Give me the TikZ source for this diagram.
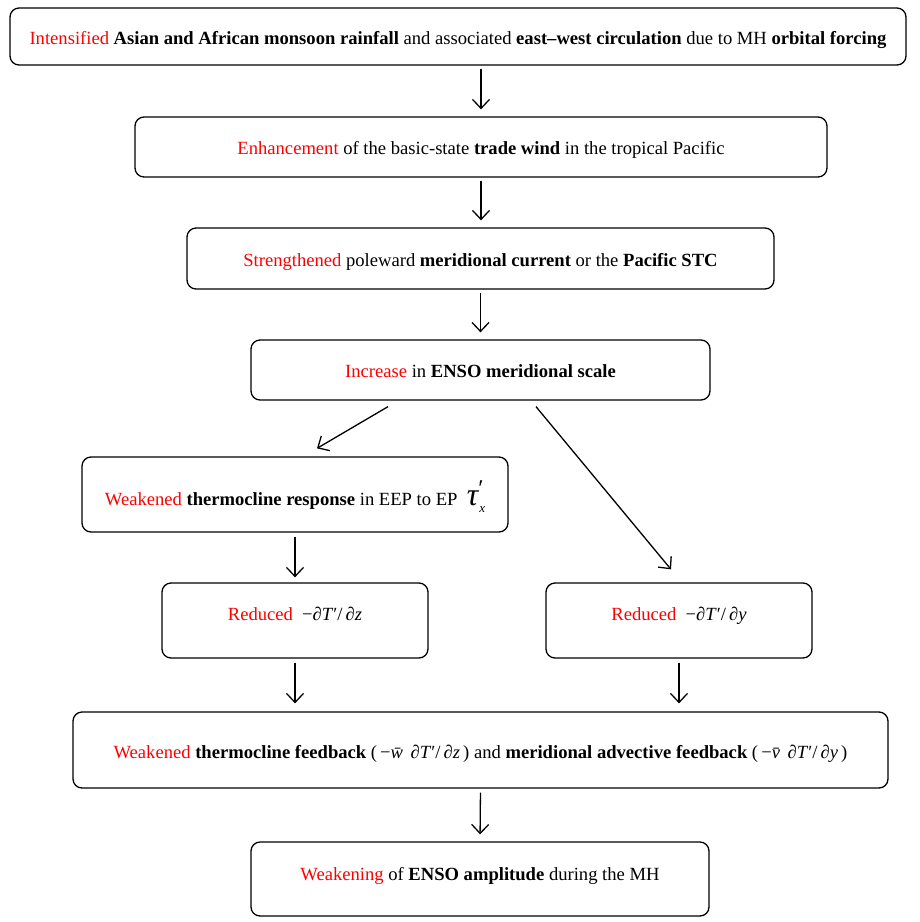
\documentclass[tikz,border=0pt]{standalone}
\usepackage{fontspec}
\setmainfont{Liberation Serif}
\usetikzlibrary{arrows.meta}
\definecolor{hlred}{RGB}{255,0,0}
\newcommand{\redw}[1]{\textcolor{hlred}{#1}}
\newcommand{\pTdz}{∂\textit{T}′/\,∂\textit{z}}
\newcommand{\pTdy}{∂\textit{T}′/\,∂\textit{y}}
\newcommand{\tauxp}{{\fontsize{32}{32}\selectfont\itshape τ}\rlap{\raisebox{9pt}{\fontsize{24}{24}\selectfont′}}\raisebox{-7pt}{\fontsize{13}{13}\selectfont\itshape\kern1pt x}}
\begin{document}
\begin{tikzpicture}[x=1pt,y=-1pt,
  box/.style={draw, line width=1.3pt, rounded corners=9pt, align=center,
    font=\fontsize{18.6}{22}\selectfont, inner sep=0pt},
  dn/.style={text height=19pt, text depth=4pt},
  arr/.style={-{Straight Barb[length=9pt,width=17pt]}, line width=1.3pt}]
\useasboundingbox (0,0) rectangle (920,922);

\node[box, dn, minimum width=896pt, minimum height=57pt] (n1) at (458,36.5)
  {\redw{Intensified} \textbf{Asian and African monsoon rainfall} and associated \textbf{east–west circulation} due to MH \textbf{orbital forcing}};
\node[box, dn, minimum width=692pt, minimum height=60pt] (n2) at (481,147)
  {\redw{Enhancement} of the basic-state \textbf{trade wind} in the tropical Pacific};
\node[box, dn, minimum width=587pt, minimum height=61pt] (n3) at (480.5,258.5)
  {\redw{Strengthened} poleward \textbf{meridional current} or the \textbf{Pacific STC}};
\node[box, dn, minimum width=459pt, minimum height=60pt] (n4) at (480.5,370)
  {\redw{Increase} in \textbf{ENSO meridional scale}};
\node[box, text height=26pt, text depth=4pt, minimum width=426pt, minimum height=75pt] (n5) at (295,494.5)
  {\redw{Weakened} \textbf{thermocline response} in EEP to EP\enspace\tauxp};
\node[box, text height=4pt, text depth=5pt, minimum width=266pt, minimum height=75pt] (n6) at (295,620.5)
  {\redw{Reduced}\enspace−\pTdz};
\node[box, text height=4pt, text depth=5pt, minimum width=266pt, minimum height=75pt] (n7) at (679,620.5)
  {\redw{Reduced}\enspace−\pTdy};
\node[box, text height=21pt, text depth=4pt, minimum width=815pt, minimum height=76pt] (n8) at (480.5,750)
  {\redw{Weakened} \textbf{thermocline feedback} (\,−\textit{\=w}\,\pTdz\,) and \textbf{meridional advective feedback} (\,−\textit{\=v}\,\pTdy\,)};
\node[box, text height=13pt, text depth=10pt, minimum width=458pt, minimum height=74pt] (n9) at (480,879)
  {\redw{Weakening} of \textbf{ENSO amplitude} during the MH};

\draw[arr, shorten <=3pt, shorten >=7pt] (n1.south -| n2.north) -- (n2.north);
\draw[arr, shorten <=3pt, shorten >=7pt] (n2.south) -- (n3.north -| n2.south);
\draw[arr, shorten <=3pt, shorten >=7pt] (n3.south) -- (n4.north);
\draw[arr] ([shift={(-92.5,6)}]n4.south) -- ([shift={(22,-8)}]n5.north);
\draw[arr] ([shift={(55.5,6)}]n4.south) -- ([shift={(-8,-13)}]n7.north);
\draw[arr, shorten <=4pt, shorten >=5pt] (n5.south) -- (n6.north);
\draw[arr, shorten <=4pt, shorten >=8pt] (n6.south) -- (n6.south |- n8.north);
\draw[arr, shorten <=4pt, shorten >=8pt] (n7.south) -- (n7.south |- n8.north);
\draw[arr, shorten <=4pt, shorten >=7pt] (n8.south) -- (n9.north);
\end{tikzpicture}
\end{document}
